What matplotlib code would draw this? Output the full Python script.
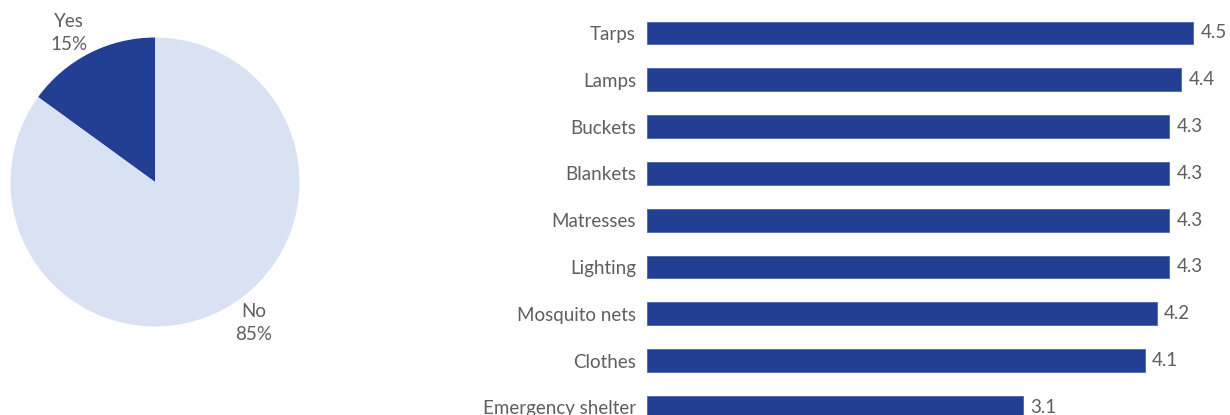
"""Relief item survey: share receiving items and average usefulness score."""
import numpy as np
import matplotlib.pyplot as plt

DARK = "#233F93"
LIGHT = "#D9E2F3"
TEXT = "#5E5E5E"

pie_labels = ["Yes", "No"]
pie_shares = [15, 85]

items = [
    "Tarps", "Lamps", "Buckets", "Blankets", "Matresses",
    "Lighting", "Mosquito nets", "Clothes", "Emergency shelter",
]
scores = [4.5, 4.4, 4.3, 4.3, 4.3, 4.3, 4.2, 4.1, 3.1]

plt.rcParams["font.family"] = ["Lato", "DejaVu Sans"]

W, H = 1230, 415
fig = plt.figure(figsize=(W / 100, H / 100), dpi=100)

# pie: centre at (155, 182) px, radius 144.5 px
cx, cy, r = 155, 182, 144.5
pax = fig.add_axes([(cx - r) / W, (H - cy - r) / H, 2 * r / W, 2 * r / H])
wedges, _ = pax.pie(pie_shares, colors=[DARK, LIGHT], startangle=90,
                    counterclock=True, radius=1.0)
pax.set_xlim(-1, 1)
pax.set_ylim(-1, 1)
pax.set_aspect("equal")
pax.axis("off")
for w, lab, share in zip(wedges, pie_labels, pie_shares):
    mid = np.deg2rad((w.theta1 + w.theta2) / 2 + (3 if lab == "Yes" else 8))
    d = 1.19
    pax.text(d * np.cos(mid), d * np.sin(mid), f"{lab}\n{share}%", ha="center",
             va="center", fontsize=13.5, color=TEXT, linespacing=1.4,
             clip_on=False)

# bars: zero at x=647 px, 121.4 px per unit, rows 46.8 px apart from y=33
x0, ppu, y0, step = 647, 121.4, 33, 46.8
bax = fig.add_axes([x0 / W, 0, (W - x0) / W, 1])
pos = np.arange(len(items))
bax.barh(pos, scores, height=0.49, color=DARK, edgecolor="#4a66b0", linewidth=0.6)
bax.set_xlim(0, (W - x0) / ppu)
bax.set_ylim((H - y0) / step, -y0 / step)
bax.set_yticks(pos, items)
bax.tick_params(axis="y", length=0, pad=8, labelsize=13.5, labelcolor=TEXT)
bax.set_xticks([])
for s in bax.spines.values():
    s.set_visible(False)
for p, v in zip(pos, scores):
    bax.text(v + 0.06, p, f"{v:.1f}", va="center", ha="left", fontsize=13.5,
             color=TEXT)

fig.savefig("out.png", dpi=100)
